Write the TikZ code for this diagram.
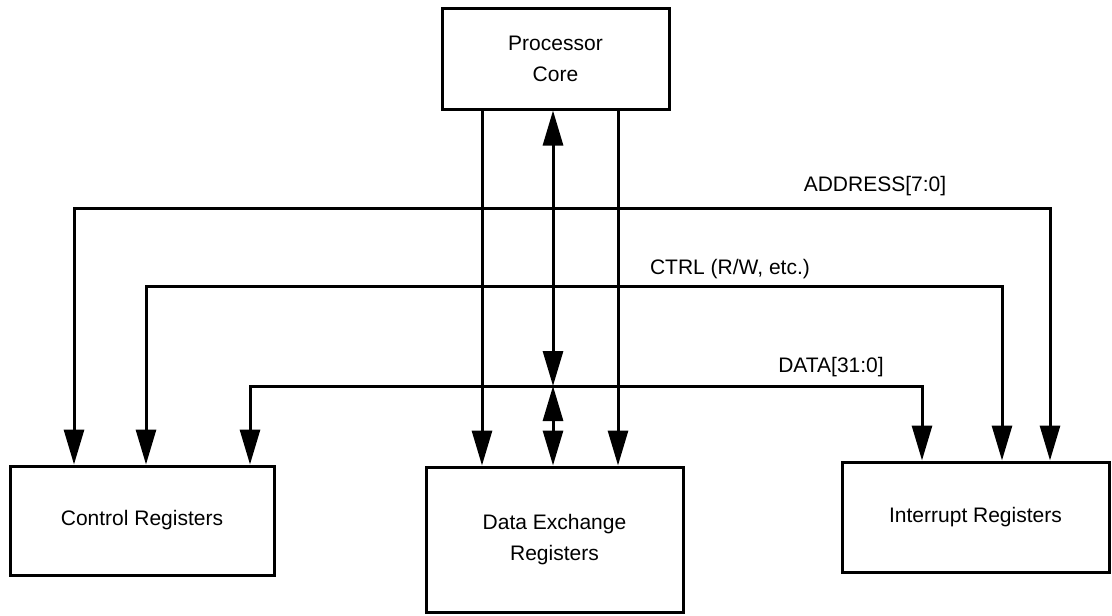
\documentclass[tikz,border=0pt]{standalone}
\usepackage{fontspec}
\setmainfont{Liberation Sans}
\usetikzlibrary{arrows.meta, positioning}

\begin{document}
\begin{tikzpicture}[
      x=1pt, y=-1pt,
      font=\fontsize{21}{31}\selectfont,
      box/.style={draw, line width=3pt, align=center, inner sep=0pt},
      bus/.style={line width=3pt, line cap=rect},
      arr/.style={line width=3pt, -{Triangle[length=35pt, width=20pt]}},
      darr/.style={line width=3pt,
                   {Triangle[length=35pt, width=20pt]}-{Triangle[length=35pt, width=20pt]}},
      lbl/.style={anchor=base},
  ]
  \useasboundingbox (0,0) rectangle (1112,616);

  %% Blocks
  \node[box, minimum width=227pt, minimum height=101pt] (core)    at (555.5,58.5) {Processor\\Core};
  \node[box, minimum width=264pt, minimum height=109pt] (ctrlreg) at (142,520.5)  {Control Registers};
  \node[box, minimum width=257pt, minimum height=145pt] (dxreg)   at (554.5,539.5) {Data Exchange\\Registers};
  \node[box, minimum width=267pt, minimum height=110pt] (intreg)  at (975.5,517)  {Interrupt Registers};

  %% Bus end points
  \coordinate (addrL) at (74,208);
  \coordinate (addrR) at (1050,208);
  \coordinate (ctrlL) at (146,286);
  \coordinate (ctrlR) at (1002,286);
  \coordinate (dataL) at (250,386);
  \coordinate (dataR) at (922,386);
  \coordinate (dataM) at (553,386);

  %% Buses
  \draw[bus] (addrL) -- (addrR);
  \draw[bus] (ctrlL) -- (ctrlR);
  \draw[bus] (dataL) -- (dataR);

  \node[lbl] (addrlbl) at (875,191) {ADDRESS[7:0]};
  \node[lbl] (ctrllbl) at (730,274) {CTRL (R/W, etc.)};
  \node[lbl] (datalbl) at (831,372) {DATA[31:0]};

  %% Drops to the register blocks
  \draw[arr] (addrL) -- (ctrlreg.north -| addrL);
  \draw[arr] (ctrlL) -- (ctrlreg.north -| ctrlL);
  \draw[arr] (dataL) -- (ctrlreg.north -| dataL);
  \draw[arr] (addrR) -- (intreg.north -| addrR);
  \draw[arr] (ctrlR) -- (intreg.north -| ctrlR);
  \draw[arr] (dataR) -- (intreg.north -| dataR);

  %% Core to data exchange
  \draw[arr]  ([xshift=-73.5pt]core.south) -- ([xshift=-72.5pt]dxreg.north);
  \draw[arr]  ([xshift=62.5pt]core.south)  -- ([xshift=63.5pt]dxreg.north);
  \draw[darr] ([xshift=-2.5pt]core.south)  -- (dataM);
  \draw[darr] (dataM) -- (dxreg.north -| dataM);

\end{tikzpicture}
\end{document}
